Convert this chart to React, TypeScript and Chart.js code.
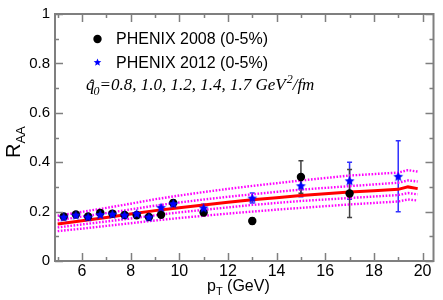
import React, { useEffect, useRef } from 'react';
import { Chart, registerables } from 'chart.js';

Chart.register(...registerables);

// ---------- data ----------
const curveX = [5, 6, 7, 8, 9, 10, 11, 12, 13, 14, 15, 16, 17, 18, 19, 19.4, 19.8];
const curveQ08 = [0.183, 0.199, 0.215, 0.232, 0.250, 0.265, 0.279, 0.292, 0.304, 0.315, 0.326, 0.336, 0.346, 0.352, 0.358, 0.368, 0.362];
const curveQ10 = [0.165, 0.180, 0.194, 0.209, 0.224, 0.237, 0.249, 0.260, 0.270, 0.280, 0.289, 0.296, 0.303, 0.310, 0.317, 0.326, 0.322];
const curveQ12 = [0.150, 0.163, 0.176, 0.190, 0.204, 0.216, 0.227, 0.238, 0.248, 0.256, 0.265, 0.272, 0.279, 0.284, 0.290, 0.300, 0.293];
const curveQ14 = [0.136, 0.148, 0.160, 0.172, 0.185, 0.197, 0.207, 0.217, 0.227, 0.235, 0.243, 0.249, 0.255, 0.261, 0.267, 0.275, 0.270];
const curveQ17 = [0.121, 0.131, 0.142, 0.153, 0.164, 0.174, 0.183, 0.192, 0.200, 0.208, 0.215, 0.222, 0.229, 0.235, 0.241, 0.249, 0.245];

const phenix2008X = [5.25, 5.75, 6.25, 6.75, 7.25, 7.75, 8.25, 8.75, 9.25, 9.75, 11, 13, 15, 17];
const phenix2008Y = [0.180, 0.188, 0.180, 0.195, 0.192, 0.186, 0.185, 0.178, 0.187, 0.235, 0.196, 0.162, 0.340, 0.273];
const phenix2008Err = [0.008, 0.008, 0.008, 0.008, 0.008, 0.008, 0.008, 0.008, 0.010, 0.012, 0.012, 0.012, 0.066, 0.097];

const phenix2012X = [5.25, 5.75, 6.25, 6.75, 7.25, 7.75, 8.25, 8.75, 9.25, 9.75, 11, 13, 15, 17, 19];
const phenix2012Y = [0.178, 0.186, 0.178, 0.188, 0.190, 0.186, 0.192, 0.178, 0.217, 0.232, 0.215, 0.255, 0.305, 0.325, 0.343];
const phenix2012Err = [0.006, 0.006, 0.006, 0.006, 0.006, 0.006, 0.006, 0.006, 0.010, 0.010, 0.015, 0.020, 0.045, 0.075, 0.144];

const xMajorTicks = [6, 8, 10, 12, 14, 16, 18, 20];
const xMinorTicks = [5, 7, 9, 11, 13, 15, 17, 19];
const yMajorTicks = [0, 0.2, 0.4, 0.6, 0.8, 1];
const yMinorTicks = [0.1, 0.3, 0.5, 0.7, 0.9];
const yTickLabels = ['0', '0.2', '0.4', '0.6', '0.8', '1'];

const legend2008 = 'PHENIX 2008 (0-5%)';
const legend2012 = 'PHENIX 2012 (0-5%)';
const qValuesText = '=0.8, 1.0, 1.2, 1.4, 1.7 GeV';

const SANS = '"Liberation Sans", Arial, Helvetica, sans-serif';
const SERIF = '"Liberation Serif", "Times New Roman", serif';
const BLUE = '#0000ff';
const AXIS_GREY = '#7f7f7f';

function drawStarPath(ctx: CanvasRenderingContext2D, cx: number, cy: number, outer: number) {
  const inner = outer * 0.45;
  ctx.beginPath();
  for (let i = 0; i < 10; i++) {
    const a = -Math.PI / 2 + (i * Math.PI) / 5;
    const r = i % 2 === 0 ? outer : inner;
    const px = cx + r * Math.cos(a);
    const py = cy + r * Math.sin(a);
    if (i === 0) ctx.moveTo(px, py);
    else ctx.lineTo(px, py);
  }
  ctx.closePath();
}

function makeStar(outer: number, color: string): HTMLCanvasElement {
  const size = Math.ceil(outer * 2 + 2);
  const c = document.createElement('canvas');
  c.width = size;
  c.height = size;
  const ctx = c.getContext('2d')!;
  drawStarPath(ctx, size / 2, size / 2 + 0.5, outer);
  ctx.fillStyle = color;
  ctx.fill();
  return c;
}

const errorBarPlugin = {
  id: 'errorBars',
  beforeDatasetsDraw(chart: any) {
    const ctx = chart.ctx as CanvasRenderingContext2D;
    const xs = chart.scales.x;
    const ys = chart.scales.y;
    chart.data.datasets.forEach((ds: any) => {
      if (!ds.errors) return;
      ctx.save();
      ctx.strokeStyle = ds.errorColor;
      ctx.lineWidth = 1.5;
      ds.data.forEach((p: any, i: number) => {
        const e = ds.errors[i];
        const px = xs.getPixelForValue(p.x);
        const top = ys.getPixelForValue(p.y + e);
        const bot = ys.getPixelForValue(p.y - e);
        ctx.beginPath();
        ctx.moveTo(px, top);
        ctx.lineTo(px, bot);
        ctx.moveTo(px - 2.5, top);
        ctx.lineTo(px + 2.5, top);
        ctx.moveTo(px - 2.5, bot);
        ctx.lineTo(px + 2.5, bot);
        ctx.stroke();
      });
      ctx.restore();
    });
  },
};

const decorPlugin = {
  id: 'decor',
  afterDraw(chart: any) {
    const ctx = chart.ctx as CanvasRenderingContext2D;
    const { left, right, top, bottom } = chart.chartArea;
    const xs = chart.scales.x;
    const ys = chart.scales.y;
    ctx.save();
    // frame
    ctx.strokeStyle = AXIS_GREY;
    ctx.lineWidth = 2;
    ctx.strokeRect(left, top, right - left, bottom - top);
    // ticks
    ctx.lineWidth = 1.5;
    const drawX = (v: number, len: number) => {
      const px = Math.round(xs.getPixelForValue(v)) + 0.5;
      ctx.beginPath();
      ctx.moveTo(px, bottom);
      ctx.lineTo(px, bottom - len);
      ctx.moveTo(px, top);
      ctx.lineTo(px, top + len);
      ctx.stroke();
    };
    const drawY = (v: number, len: number) => {
      const py = Math.round(ys.getPixelForValue(v)) + 0.5;
      ctx.beginPath();
      ctx.moveTo(left, py);
      ctx.lineTo(left + len, py);
      ctx.moveTo(right, py);
      ctx.lineTo(right - len, py);
      ctx.stroke();
    };
    xMajorTicks.forEach((v) => drawX(v, 8));
    xMinorTicks.forEach((v) => drawX(v, 4));
    yMajorTicks.forEach((v) => drawY(v, 8));
    yMinorTicks.forEach((v) => drawY(v, 4));

    ctx.fillStyle = '#000';
    ctx.textBaseline = 'alphabetic';
    // x title
    ctx.textAlign = 'left';
    let x = 207;
    const by = 291;
    ctx.font = `16px ${SANS}`;
    ctx.fillText('p', x, by);
    x += ctx.measureText('p').width;
    ctx.font = `11px ${SANS}`;
    ctx.fillText('T', x, by + 4);
    x += ctx.measureText('T').width;
    ctx.font = `16px ${SANS}`;
    ctx.fillText(' (GeV)', x, by);

    // y title
    ctx.save();
    ctx.translate(20, 158);
    ctx.rotate(-Math.PI / 2);
    ctx.font = `20px ${SANS}`;
    ctx.fillText('R', 0, 0);
    const rw = ctx.measureText('R').width;
    ctx.font = `13px ${SANS}`;
    ctx.fillText('AA', rw, 5);
    ctx.restore();

    // legend
    ctx.fillStyle = '#000';
    ctx.beginPath();
    ctx.arc(97.5, 39, 4.2, 0, Math.PI * 2);
    ctx.fill();
    ctx.font = `16px ${SANS}`;
    ctx.fillText(legend2008, 116, 44);
    drawStarPath(ctx, 97.5, 62.5, 4);
    ctx.fillStyle = BLUE;
    ctx.fill();
    ctx.fillStyle = '#000';
    ctx.fillText(legend2012, 116, 67.5);

    // q-hat line
    let qx = 86;
    const qy = 90;
    ctx.font = `italic 17px ${SERIF}`;
    ctx.fillText('q', qx, qy);
    const qw = ctx.measureText('q').width;
    ctx.fillText('\u02C6', qx + 2, qy + 1);
    qx += qw;
    ctx.font = `italic 12px ${SERIF}`;
    ctx.fillText('0', qx - 1, qy + 5);
    qx += ctx.measureText('0').width - 1;
    ctx.font = `italic 17px ${SERIF}`;
    ctx.fillText(qValuesText, qx, qy);
    qx += ctx.measureText(qValuesText).width;
    ctx.font = `italic 12px ${SERIF}`;
    ctx.fillText('2', qx + 1, qy - 7);
    qx += ctx.measureText('2').width + 1;
    ctx.font = `italic 17px ${SERIF}`;
    ctx.fillText('/fm', qx, qy);
    ctx.restore();
  },
};

const toPts = (xs: number[], ys: number[]) => xs.map((x, i) => ({ x, y: ys[i] }));

export default function App() {
  const ref = useRef<HTMLCanvasElement>(null);
  useEffect(() => {
    document.body.style.margin = '0';
    const starImg = makeStar(5.2, BLUE);
    const dotted = (d: number[]) => ({
      data: toPts(curveX, d),
      showLine: true,
      borderColor: '#ff00ff',
      borderWidth: 2.4,
      borderDash: [1.6, 1.6],
      pointRadius: 0,
      fill: false,
      tension: 0,
    });
    const chart = new Chart(ref.current!, {
      type: 'scatter',
      data: {
        datasets: [
          {
            label: legend2012,
            data: toPts(phenix2012X, phenix2012Y),
            pointStyle: starImg as any,
            pointRadius: 5,
            backgroundColor: BLUE,
            borderColor: BLUE,
            errors: phenix2012Err,
            errorColor: '#3030ff',
          } as any,
          {
            label: legend2008,
            data: toPts(phenix2008X, phenix2008Y),
            pointStyle: 'circle',
            pointRadius: 4.2,
            borderWidth: 0,
            backgroundColor: '#000',
            borderColor: '#000',
            errors: phenix2008Err,
            errorColor: '#404040',
          } as any,
          {
            data: toPts(curveX, curveQ12),
            showLine: true,
            borderColor: '#ff0000',
            borderWidth: 3,
            pointRadius: 0,
            fill: false,
          },
          dotted(curveQ08),
          dotted(curveQ10),
          dotted(curveQ14),
          dotted(curveQ17),
        ],
      },
      options: {
        responsive: false,
        animation: false,
        devicePixelRatio: 1,
        layout: { padding: { top: 13, right: 9.5, left: 0, bottom: 0 } },
        plugins: { legend: { display: false }, tooltip: { enabled: false } },
        scales: {
          x: {
            type: 'linear',
            min: 4.89,
            max: 20.45,
            afterBuildTicks: (s: any) => {
              s.ticks = xMajorTicks.map((v) => ({ value: v }));
            },
            afterFit: (s: any) => {
              s.height = 39;
            },
            grid: { display: false, drawTicks: false },
            border: { display: false },
            ticks: {
              color: '#000',
              font: { family: SANS, size: 16 },
              padding: 1,
              maxRotation: 0,
              autoSkip: false,
              callback: (v: any) => String(v),
            },
          },
          y: {
            type: 'linear',
            min: 0,
            max: 1,
            afterBuildTicks: (s: any) => {
              s.ticks = yMajorTicks.map((v) => ({ value: v }));
            },
            afterFit: (s: any) => {
              s.width = 55;
            },
            grid: { display: false, drawTicks: false },
            border: { display: false },
            ticks: {
              color: '#000',
              font: { family: SANS, size: 15 },
              padding: 5,
              autoSkip: false,
              callback: (v: any) => {
                const i = yMajorTicks.findIndex((t) => Math.abs(t - Number(v)) < 1e-9);
                return i >= 0 ? yTickLabels[i] : '';
              },
            },
          },
        },
      },
      plugins: [errorBarPlugin, decorPlugin],
    });
    return () => chart.destroy();
  }, []);
  return (
    <div style={{ position: 'absolute', left: 0, top: 0, width: 443, height: 300, background: '#fff' }}>
      <canvas ref={ref} width={443} height={300} style={{ display: 'block' }} />
    </div>
  );
}
